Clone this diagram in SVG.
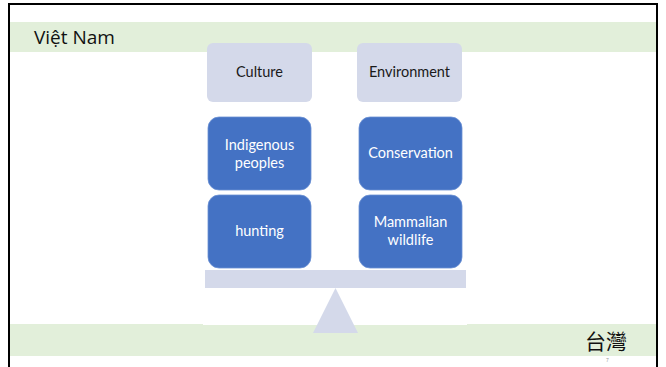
<svg xmlns="http://www.w3.org/2000/svg" width="666" height="367" viewBox="0 0 666 367">
<style>
.band{fill:#E2EFDA}
.light{fill:#D4D9EA}
.blue{fill:#4472C4;stroke:#6A8FD3;stroke-width:0.8}
.t{font-family:Lato,"Open Sans","Liberation Sans",sans-serif;font-size:14.5px;text-anchor:middle}
.dk{fill:#1A1A1A}
.wt{fill:#FFFFFF}
</style>
<rect x="0" y="0" width="666" height="367" fill="#FFFFFF"/>
<rect x="9" y="4" width="648" height="370" fill="none" stroke="#000" stroke-width="2"/>
<rect class="band" x="10" y="22" width="646" height="30"/>
<rect class="band" x="10" y="324" width="646" height="32"/>
<text x="34" y="44" font-family="Open Sans, Liberation Sans, sans-serif" font-size="19" fill="#111">Việt Nam</text>
<g id="balance">
<rect x="203" y="288" width="264" height="37" fill="#FFFFFF"/>
<rect class="light" x="205" y="270" width="261" height="18"/>
<polygon class="light" points="335.5,288 313,333 358,333"/>
</g>
<g id="culture"><rect class="light" x="207" y="43" width="105" height="59" rx="6"/><text class="t dk" x="259.5" y="77">Culture</text></g>
<g id="environment"><rect class="light" x="357" y="43" width="105" height="59" rx="6"/><text class="t dk" x="409.5" y="77">Environment</text></g>
<g id="indigenous"><rect class="blue" x="208" y="117" width="103" height="73" rx="11"/><text class="t wt" x="259.5" y="150">Indigenous</text><text class="t wt" x="259.5" y="167.5">peoples</text></g>
<g id="conservation"><rect class="blue" x="359" y="117" width="103" height="73" rx="11"/><text class="t wt" x="410.5" y="158">Conservation</text></g>
<g id="hunting"><rect class="blue" x="208" y="195" width="103" height="73" rx="11"/><text class="t wt" x="259.5" y="236">hunting</text></g>
<g id="mammalian"><rect class="blue" x="359" y="195" width="103" height="73" rx="11"/><text class="t wt" x="410.5" y="227">Mammalian</text><text class="t wt" x="410.5" y="244.5">wildlife</text></g>
<g id="connectors"></g>
<text x="585" y="349" font-family="Noto Sans CJK TC, sans-serif" font-size="21" fill="#111">台灣</text>
<text x="606" y="362" font-family="Liberation Sans, sans-serif" font-size="5" fill="#999">7</text>
</svg>
